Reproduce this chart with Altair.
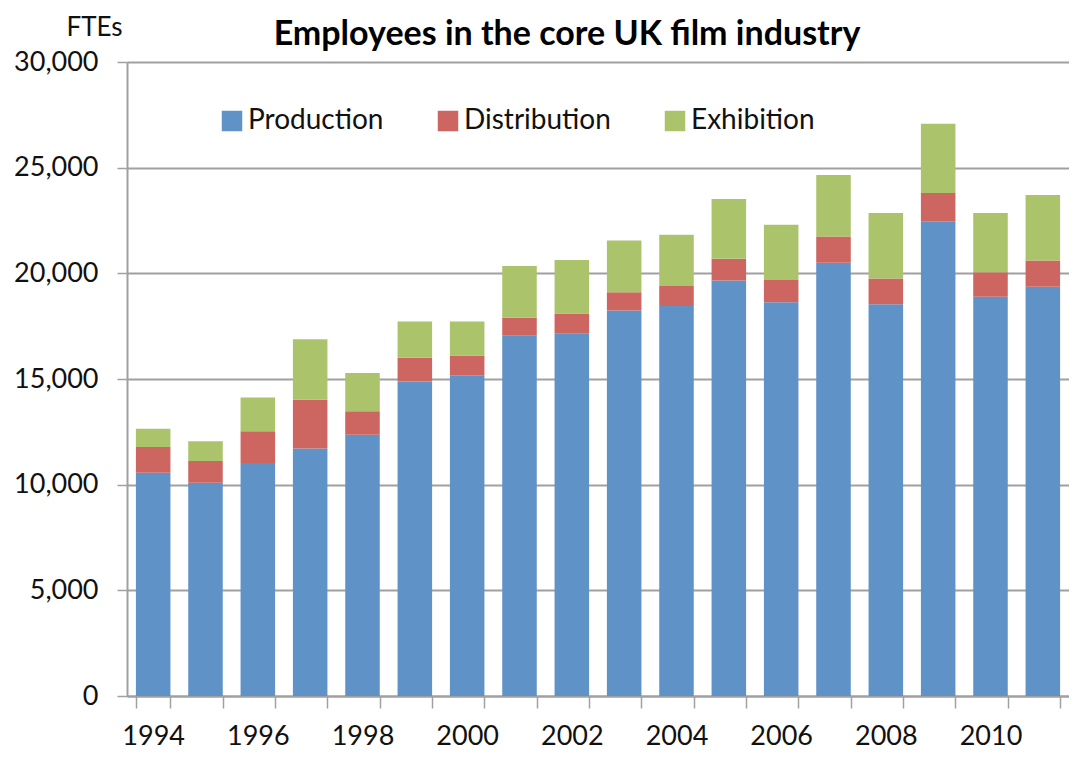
import altair as alt
import pandas as pd

years = [str(y) for y in range(1994, 2012)]
production = [10560, 10090, 11030, 11710, 12360, 14880, 15180, 17050, 17140,
              18240, 18460, 19660, 18630, 20500, 18540, 22470, 18890, 19370]
distribution = [1220, 1030, 1500, 2310, 1110, 1120, 930, 850, 960,
                860, 940, 1030, 1050, 1240, 1210, 1330, 1160, 1240]
exhibition = [860, 940, 1600, 2860, 1810, 1720, 1610, 2450, 2530,
              2450, 2430, 2830, 2620, 2910, 3110, 3280, 2810, 3100]
series = ["Production", "Distribution", "Exhibition"]
colors = ["#5f93c8", "#cd6660", "#abc46c"]
y_ticks = [0, 5000, 10000, 15000, 20000, 25000, 30000]

rows = []
for i, y in enumerate(years):
    for k, (name, vals) in enumerate(zip(series, [production, distribution, exhibition])):
        rows.append({"year": y, "series": name, "value": vals[i], "ord": k})
df = pd.DataFrame(rows)

FONT = "Lato"
GRID = "#a0a0a0"
TXT = "#111111"

chart = alt.Chart(df).mark_bar().encode(
    x=alt.X("year:O", title=None,
            scale=alt.Scale(paddingInner=0.34),
            axis=alt.Axis(labelAngle=0, tickBand="extent", tickSize=12,
                          tickColor=GRID, tickWidth=1.5,
                          domainColor=GRID, domainWidth=2,
                          labelFontSize=27, labelFont=FONT, labelColor=TXT,
                          labelPadding=15,
                          labelExpr="toNumber(datum.value) % 2 == 0 ? datum.label : ''")),
    y=alt.Y("value:Q", stack="zero",
            scale=alt.Scale(domain=[0, 30000], nice=False),
            axis=alt.Axis(values=y_ticks, format=",.0f",
                          title="FTEs", titleAngle=0, titleX=-33, titleY=-35,
                          titleAlign="center", titleBaseline="middle",
                          titleFont=FONT, titleFontSize=26, titleFontWeight="normal",
                          titleColor=TXT,
                          labelFontSize=27, labelFont=FONT, labelColor=TXT,
                          labelPadding=19, tickSize=10, tickColor=GRID, tickWidth=1.5,
                          domainColor=GRID, domainWidth=2,
                          gridColor=GRID, gridWidth=2)),
    color=alt.Color("series:N", sort=series,
                    scale=alt.Scale(domain=series, range=colors),
                    legend=alt.Legend(title=None, orient="none", legendX=91, legendY=45,
                                      direction="horizontal", symbolType="square",
                                      symbolSize=420, symbolStrokeWidth=0,
                                      labelFontSize=28, labelFont=FONT, labelColor=TXT,
                                      labelOffset=2, columnPadding=50)),
    order=alt.Order("ord:Q", sort="ascending"),
).properties(
    width=942, height=634,
    title=alt.TitleParams("Employees in the core UK film industry", anchor="middle",
                          dx=-31, dy=65, offset=0, baseline="alphabetic", frame="group",
                          font=FONT, fontSize=34, fontWeight="bold", color="#000"),
    autosize=alt.AutoSizeParams(type="none"),
    padding={"left": 119, "top": 54, "right": 0, "bottom": 56},
).configure_view(stroke=None)

chart.save("out.html", embed_options={"renderer": "svg", "actions": False})
